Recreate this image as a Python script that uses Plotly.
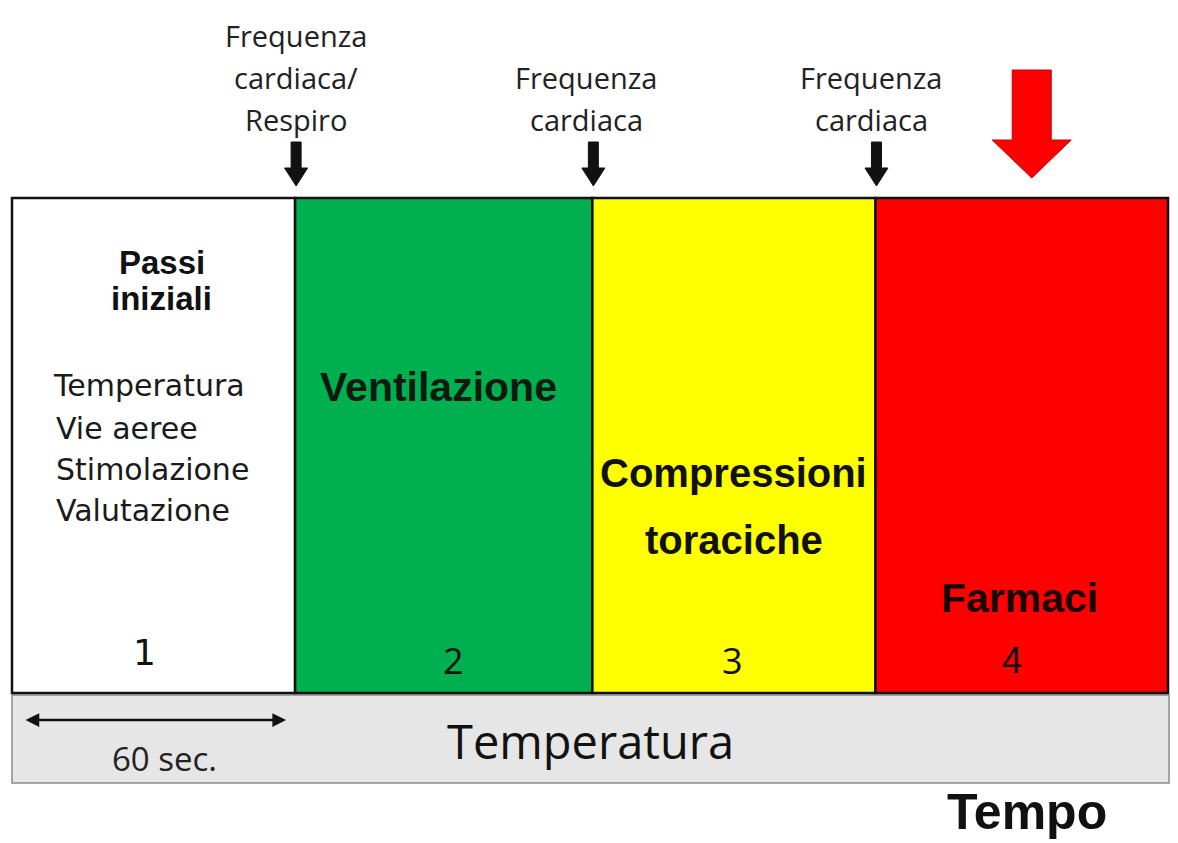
import plotly.graph_objects as go

# ---------------- data ----------------
phases = ["Passi iniziali", "Ventilazione", "Compressioni toraciche", "Farmaci"]
phase_numbers = ["1", "2", "3", "4"]
phase_durations_s = [60, 63, 60, 62]          # first phase = 60 sec.; others estimated
phase_colors = ["#ffffff", "#00b050", "#ffff00", "#ff0000"]
initial_steps = ["Temperatura", "Vie aeree", "Stimolazione", "Valutazione"]
checkpoints = ["Frequenza\ncardiaca/\nRespiro", "Frequenza\ncardiaca", "Frequenza\ncardiaca"]
band_label = "Temperatura"
duration_label = "60 sec."
axis_title = "Tempo"

# ---------------- layout constants (page pixels) ----------------
PAGE_OFF = 8                      # default body margin of the html page
W, H = 1178 - 2 * PAGE_OFF, 843 - PAGE_OFF
BOX_L, BOX_R = 12, 1168           # page x of the time axis extent
PAD_L, PAD_R = 4, 2
ML = BOX_L - PAD_L - PAGE_OFF
MR = max(0, W - ML - (BOX_R - BOX_L) - PAD_L - PAD_R)
starts = [sum(phase_durations_s[:i]) for i in range(len(phase_durations_s))]
total = sum(phase_durations_s)
ends = [s + d for s, d in zip(starts, phase_durations_s)]
centers = [s + d / 2 for s, d in zip(starts, phase_durations_s)]
pps = (BOX_R - BOX_L) / total  # pixels per second


def px(v):
    return v / pps


MAIN_TOP, MAIN_BOT = 198, 693
BAND_TOP, BAND_BOT = 695, 783

fig = go.Figure()

# grey band
fig.add_trace(go.Bar(
    orientation="h", base=[starts[0]], x=[total + px(1)],
    y=[(BAND_TOP + BAND_BOT) / 2], width=[BAND_BOT - BAND_TOP],
    marker=dict(color="#e6e6e6", line=dict(color="#8a8a8a", width=1.5)),
    hoverinfo="skip", showlegend=False))

# phases
fig.add_trace(go.Bar(
    orientation="h", base=starts, x=phase_durations_s,
    y=[(MAIN_TOP + MAIN_BOT) / 2] * len(phases), width=[MAIN_BOT - MAIN_TOP] * len(phases),
    marker=dict(color=phase_colors, line=dict(color="#111111", width=2.5)),
    hovertext=phases, hoverinfo="text", showlegend=False))


def block_arrow(xc, top, head_start, tip, shaft_w, head_w):
    xs = [xc - px(shaft_w / 2), xc + px(shaft_w / 2), xc + px(shaft_w / 2), xc + px(head_w / 2),
          xc, xc - px(head_w / 2), xc - px(shaft_w / 2), xc - px(shaft_w / 2)]
    ys = [top, top, head_start, head_start, tip, head_start, head_start, top]
    return xs, ys


# black checkpoint arrows at phase boundaries
for b in ends[:-1]:
    xs, ys = block_arrow(b + px(1), 142, 168, 186, 10, 23)
    fig.add_trace(go.Scatter(x=xs, y=ys, mode="lines", fill="toself", fillcolor="#111111",
                             line=dict(color="#111111", width=1), hoverinfo="skip", showlegend=False))

# big red arrow above the last phase
xs, ys = block_arrow(centers[-1] + px(10), 70, 140, 178, 39, 79)
fig.add_trace(go.Scatter(x=xs, y=ys, mode="lines", fill="toself", fillcolor="#ff0000",
                         line=dict(color="#c00000", width=1), hoverinfo="skip", showlegend=False))

ann = []
BOLD = "Liberation Sans, Arial, sans-serif"
CAL = "Open Sans, sans-serif"
TAH = "DejaVu Sans, Verdana, sans-serif"

# checkpoint labels
cp_shift = [1, -6, -4]
for i, lab in enumerate(checkpoints):
    lines = lab.split("\n")
    n = len(lines)
    for j, line in enumerate(lines):
        ann.append(dict(x=ends[i], y=119 - 42 * (n - 1 - j), text=line, xshift=cp_shift[i],
                        showarrow=False, xanchor="center", yanchor="middle",
                        font=dict(family=CAL, size=29, color="#222222")))

# phase 1 title and list
for j, w in enumerate(phases[0].split(" ")):
    ann.append(dict(x=centers[0], y=262 + 36 * j, text=w, xshift=8, showarrow=False,
                    font=dict(family=BOLD, size=33, color="#111111", weight="bold")))
list_y = [385, 428, 469, 510]
for j, s in enumerate(initial_steps):
    ann.append(dict(x=starts[0], y=list_y[j], text=s, xshift=39 if j == 0 else 42,
                    xanchor="left", showarrow=False,
                    font=dict(family=TAH, size=30, color="#1a1a1a")))

# phase titles 2-4
ann.append(dict(x=centers[1], y=387, text=phases[1], xshift=-5, showarrow=False,
                font=dict(family=BOLD, size=41, color="#0d1a10", weight="bold")))
for j, w in enumerate(phases[2].split(" ")):
    ann.append(dict(x=centers[2], y=473 + 67 * j, text=w, xshift=0, showarrow=False,
                    font=dict(family=BOLD, size=40, color="#111111", weight="bold")))
ann.append(dict(x=centers[3], y=598, text=phases[3], xshift=-2, showarrow=False,
                font=dict(family=BOLD, size=41, color="#1a0000", weight="bold")))

# phase numbers
num_y = [652, 660, 660, 660]
num_shift = [-9, 10, -1, -10]
num_font = [TAH, CAL, CAL, BOLD]
for i, n in enumerate(phase_numbers):
    ann.append(dict(x=centers[i], y=num_y[i], text=n, xshift=num_shift[i], showarrow=False,
                    font=dict(family=num_font[i], size=36, color="#111111")))

# band: double arrow, 60 sec., Temperatura
ann.append(dict(x=ends[0] - px(9), y=720, ax=starts[0] + px(12), ay=720, axref="x", ayref="y",
                xref="x", yref="y", showarrow=True, arrowside="end+start", arrowhead=2,
                arrowsize=1.1, arrowwidth=2.5, arrowcolor="#111111", text=""))
ann.append(dict(x=centers[0], y=758, text=duration_label, xshift=11, showarrow=False,
                font=dict(family=CAL, size=33, color="#222222")))
ann.append(dict(x=total / 2, y=741, text=band_label, xshift=0, showarrow=False,
                font=dict(family=CAL, size=47, color="#111111")))

# time axis title
ann.append(dict(x=centers[3], y=812, text=axis_title, xshift=5, showarrow=False,
                font=dict(family=BOLD, size=50, color="#111111", weight="bold")))

fig.update_layout(
    width=W, height=H,
    margin=dict(l=ML, r=MR, t=0, b=0),
    paper_bgcolor="white", plot_bgcolor="white",
    barmode="overlay",
    xaxis=dict(range=[-px(PAD_L), total + px(PAD_R)], visible=False, fixedrange=True),
    yaxis=dict(range=[PAGE_OFF + H, PAGE_OFF], visible=False, fixedrange=True),
    annotations=ann,
    showlegend=False,
)

fig.write_html("out.html")
